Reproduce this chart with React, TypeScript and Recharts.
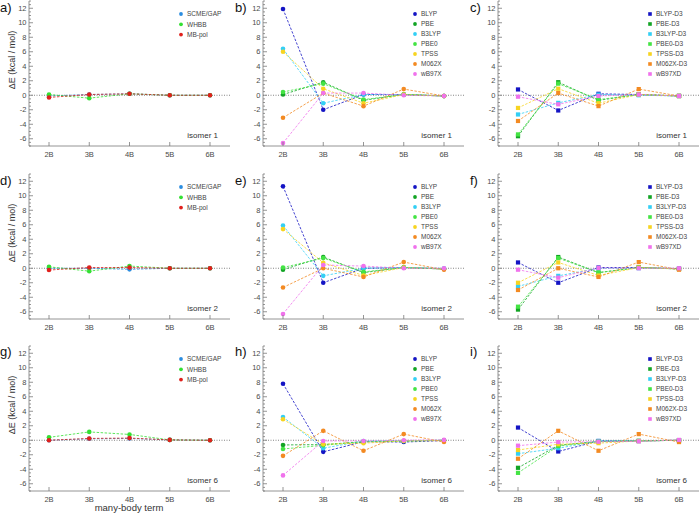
import React from "react";
import { LineChart, Line, XAxis, YAxis, ReferenceLine } from "recharts";

// categories on the x axis
const terms = ["2B", "3B", "4B", "5B", "6B"];

// y axis: labelled ticks every 2, small ticks every 0.5
const majorTicks = [-6, -4, -2, 0, 2, 4, 6, 8, 10, 12];
const yTicks: number[] = [];
for (let v = -7; v <= 13; v += 0.5) yTicks.push(v);

const ffNames = ["SCME/GAP", "WHBB", "MB-pol"];
const ffColors = ["#2b8de0", "#33e033", "#e0201c"];
const dftNames = ["BLYP", "PBE", "B3LYP", "PBE0", "TPSS", "M062X", "wB97X"];
const d3Names = ["BLYP-D3", "PBE-D3", "B3LYP-D3", "PBE0-D3", "TPSS-D3", "M062X-D3", "wB97XD"];
const dftColors = ["#1414c4", "#12a424", "#33cff5", "#44e444", "#f7d421", "#f38a22", "#f072ec"];

// force fields, one row per model (SCME/GAP, WHBB, MB-pol)
const ffIso1 = [
  [-0.1, 0.1, 0.2, 0, 0],
  [0.1, -0.4, 0.2, 0, 0],
  [-0.3, 0.1, 0.2, 0, 0],
];
const ffIso2 = [
  [0.0, 0.0, -0.15, 0, 0],
  [0.2, -0.4, 0.3, 0, 0],
  [-0.25, 0.1, 0.1, 0, 0],
];
const ffIso6 = [
  [0.0, 0.2, 0.25, 0.05, 0],
  [0.4, 1.15, 0.8, 0.05, 0],
  [0.0, 0.25, 0.3, 0.05, 0],
];

// plain functionals
const dftIso1 = [
  [11.9, -2.0, 0.1, 0.1, -0.1],
  [0.1, 1.8, -0.7, 0.1, -0.1],
  [6.4, -1.1, 0.1, 0.1, -0.1],
  [0.45, 1.6, -0.6, 0.1, -0.1],
  [6.0, 0.9, -1.1, 0.1, -0.1],
  [-3.1, 0.3, -1.5, 0.85, -0.1],
  [-6.6, 0.3, 0.3, 0.0, -0.1],
];
const dftIso2 = [
  [11.3, -2.0, 0.0, 0.1, -0.1],
  [-0.2, 1.55, -0.6, 0.1, -0.1],
  [5.9, -1.05, 0.0, 0.1, 0.0],
  [0.1, 1.4, -0.5, 0.1, -0.1],
  [5.4, 0.75, -1.0, 0.1, -0.1],
  [-2.65, 0.0, -1.2, 0.85, -0.2],
  [-6.3, 0.45, 0.3, 0.0, 0.0],
];
const dftIso6 = [
  [7.8, -1.6, -0.2, -0.25, -0.05],
  [-0.65, -0.6, -0.2, -0.1, 0],
  [3.2, -1.1, -0.1, -0.1, 0],
  [-1.2, -0.7, -0.2, -0.1, 0],
  [2.9, -0.55, -0.4, -0.1, -0.05],
  [-2.15, 1.3, -1.45, 0.85, -0.25],
  [-4.85, -0.1, -0.1, 0.0, 0.05],
];

// dispersion corrected
const d3Iso1 = [
  [0.8, -2.1, 0.2, 0.1, -0.1],
  [-5.65, 1.8, -0.7, 0.1, -0.1],
  [-2.65, -1.05, 0.1, 0.0, -0.1],
  [-5.4, 1.6, -0.6, 0.1, -0.1],
  [-1.75, 0.9, -1.1, 0.1, -0.1],
  [-3.55, 0.3, -1.5, 0.85, -0.1],
  [-0.2, -1.25, -0.1, 0.1, -0.1],
];
const d3Iso2 = [
  [0.8, -2.0, 0.1, 0.1, -0.05],
  [-5.7, 1.55, -0.6, 0.1, -0.1],
  [-2.5, -1.05, 0.0, 0.0, -0.05],
  [-5.3, 1.4, -0.6, 0.1, -0.1],
  [-2.0, 0.8, -1.0, 0.1, -0.1],
  [-3.0, 0.0, -1.2, 0.85, -0.2],
  [-0.2, -1.3, 0.05, 0.0, 0.0],
];
const d3Iso6 = [
  [1.75, -1.55, -0.1, -0.1, 0],
  [-3.8, -0.7, -0.15, -0.1, 0],
  [-1.85, -1.1, -0.1, -0.1, 0],
  [-4.5, -0.8, -0.2, -0.1, 0],
  [-1.35, -0.55, -0.4, -0.1, 0],
  [-2.55, 1.3, -1.45, 0.85, -0.25],
  [-0.75, -0.25, -0.2, -0.15, 0.05],
];

const FONT = "'Liberation Sans', Arial, Helvetica, sans-serif";
const FRAME = "#7a7a7a";
const TICK_TEXT = "#4a4a4a";

const PLOT_W = 201;
const PLOT_H = 145;
const AXIS_W = 30;
const BOTTOM_H = 22;
const PAD_T = 4;
const PAD_R = 4;

const colX = [29, 263, 498];
const rowY = [1, 174, 346];

const LeftTick = (p: any) => {
  const v = p.payload.value;
  const major = majorTicks.includes(v);
  return (
    <g>
      <line x1={p.x} x2={p.x + (major ? 4 : 2)} y1={p.y} y2={p.y} stroke={FRAME} strokeWidth={0.8} />
      {major && (
        <text x={p.x - 2.5} y={p.y} dy="0.35em" textAnchor="end" fontSize={7.5} fill={TICK_TEXT} fontFamily={FONT}>
          {v}
        </text>
      )}
    </g>
  );
};

const RightTick = (p: any) => {
  const major = majorTicks.includes(p.payload.value);
  return <line x1={p.x} x2={p.x - (major ? 4 : 2)} y1={p.y} y2={p.y} stroke={FRAME} strokeWidth={0.8} />;
};

const BottomTick = (p: any) => (
  <g>
    <line x1={p.x} x2={p.x} y1={p.y} y2={p.y - 4} stroke={FRAME} strokeWidth={0.8} />
    <text x={p.x} y={p.y + 10.5} textAnchor="middle" fontSize={7.5} fill={TICK_TEXT} fontFamily={FONT}>
      {p.payload.value}
    </text>
  </g>
);

const TopTick = (p: any) => <line x1={p.x} x2={p.x} y1={p.y} y2={p.y + 4} stroke={FRAME} strokeWidth={0.8} />;

type PanelProps = {
  col: number;
  row: number;
  isomer: string;
  names: string[];
  colors: string[];
  values: number[][];
  square?: boolean;
};

function Panel({ col, row, isomer, names, colors, values, square }: PanelProps) {
  const data = terms.map((term, i) => {
    const r: any = { term };
    values.forEach((s, j) => (r["s" + j] = s[i]));
    return r;
  });
  const w = AXIS_W + PLOT_W + PAD_R;
  const h = PAD_T + PLOT_H + BOTTOM_H;
  const r = 2.3;
  const legX = AXIS_W + 152;
  const legY = PAD_T + 13;
  const legStep = names.length > 3 ? 10 : 10.3;

  return (
    <div style={{ position: "absolute", left: colX[col] - AXIS_W, top: rowY[row] - PAD_T, width: w, height: h }}>
      <LineChart width={w} height={h} data={data} margin={{ top: PAD_T, right: PAD_R, left: 0, bottom: 0 }}>
        <XAxis
          dataKey="term"
          padding={{ left: 20, right: 20 }}
          height={BOTTOM_H}
          tickSize={0}
          tickMargin={0}
          tickLine={false}
          axisLine={{ stroke: FRAME, strokeWidth: 0.8 }}
          tick={BottomTick}
          interval={0}
        />
        <XAxis
          xAxisId="top"
          orientation="top"
          dataKey="term"
          padding={{ left: 20, right: 20 }}
          height={0}
          tickSize={0}
          tickMargin={0}
          tickLine={false}
          axisLine={{ stroke: FRAME, strokeWidth: 0.8 }}
          tick={TopTick}
          interval={0}
        />
        <YAxis
          type="number"
          domain={[-7, 13]}
          ticks={yTicks}
          interval={0}
          width={AXIS_W}
          tickSize={0}
          tickMargin={0}
          tickLine={false}
          axisLine={{ stroke: FRAME, strokeWidth: 0.8 }}
          tick={LeftTick}
        />
        <YAxis
          yAxisId="right"
          orientation="right"
          type="number"
          domain={[-7, 13]}
          ticks={yTicks}
          interval={0}
          width={0}
          tickSize={0}
          tickMargin={0}
          tickLine={false}
          axisLine={{ stroke: FRAME, strokeWidth: 0.8 }}
          tick={RightTick}
        />
        <ReferenceLine y={0} stroke="#777" strokeDasharray="1 1.5" strokeWidth={0.9} />
        {names.map((n, j) => (
          <Line
            key={n}
            name={n}
            dataKey={"s" + j}
            type="linear"
            stroke={colors[j]}
            strokeWidth={0.8}
            strokeDasharray="2.5 1.5"
            isAnimationActive={false}
            activeDot={false}
            dot={
              square
                ? (d: any) => (
                    <rect key={"d" + j + "-" + d.index} x={d.cx - 2.1} y={d.cy - 2.1} width={4.2} height={4.2} fill={colors[j]} />
                  )
                : { r, fill: colors[j], stroke: colors[j], strokeWidth: 0 }
            }
          />
        ))}
      </LineChart>
      <svg width={w} height={h} style={{ position: "absolute", left: 0, top: 0, pointerEvents: "none" }}>
        {names.map((n, j) => (
          <g key={n}>
            {square ? (
              <rect x={legX - 1.8} y={legY + j * legStep - 1.8} width={3.6} height={3.6} fill={colors[j]} />
            ) : (
              <circle cx={legX} cy={legY + j * legStep} r={1.9} fill={colors[j]} />
            )}
            <text x={legX + 6} y={legY + j * legStep} dy="0.35em" fontSize={6.5} fill="#444" fontFamily={FONT}>
              {n}
            </text>
          </g>
        ))}
        <text x={AXIS_W + PLOT_W - 12} y={PAD_T + PLOT_H - 8} textAnchor="end" fontSize={8} fill="#333" fontFamily={FONT}>
          {isomer}
        </text>
      </svg>
    </div>
  );
}

const letters = [
  ["a)", "b)", "c)"],
  ["d)", "e)", "f)"],
  ["g)", "h)", "i)"],
];
const letterX = [0, 235, 470];
const letterY = [12, 185, 356];

export default function App() {
  return (
    <div style={{ position: "absolute", left: 0, top: 0, width: 700, height: 514, background: "#fff", overflow: "hidden" }}>
      <Panel col={0} row={0} isomer="isomer 1" names={ffNames} colors={ffColors} values={ffIso1} />
      <Panel col={1} row={0} isomer="isomer 1" names={dftNames} colors={dftColors} values={dftIso1} />
      <Panel col={2} row={0} isomer="isomer 1" names={d3Names} colors={dftColors} values={d3Iso1} square />
      <Panel col={0} row={1} isomer="isomer 2" names={ffNames} colors={ffColors} values={ffIso2} />
      <Panel col={1} row={1} isomer="isomer 2" names={dftNames} colors={dftColors} values={dftIso2} />
      <Panel col={2} row={1} isomer="isomer 2" names={d3Names} colors={dftColors} values={d3Iso2} square />
      <Panel col={0} row={2} isomer="isomer 6" names={ffNames} colors={ffColors} values={ffIso6} />
      <Panel col={1} row={2} isomer="isomer 6" names={dftNames} colors={dftColors} values={dftIso6} />
      <Panel col={2} row={2} isomer="isomer 6" names={d3Names} colors={dftColors} values={d3Iso6} square />
      <svg width={700} height={514} style={{ position: "absolute", left: 0, top: 0, pointerEvents: "none" }}>
        {letters.map((row, i) =>
          row.map((l, k) => (
            <text key={l} x={letterX[k]} y={letterY[i]} fontSize={13} fill="#111" fontFamily={FONT}>
              {l}
            </text>
          ))
        )}
        {rowY.map((y, i) => (
          <text
            key={"yl" + i}
            transform={`translate(15, ${y + 59}) rotate(-90)`}
            textAnchor="middle"
            fontSize={9}
            fill="#333"
            fontFamily={FONT}
          >
            ΔE (kcal / mol)
          </text>
        ))}
        <text x={129} y={511} textAnchor="middle" fontSize={9.5} fill="#333" fontFamily={FONT}>
          many-body term
        </text>
      </svg>
    </div>
  );
}
